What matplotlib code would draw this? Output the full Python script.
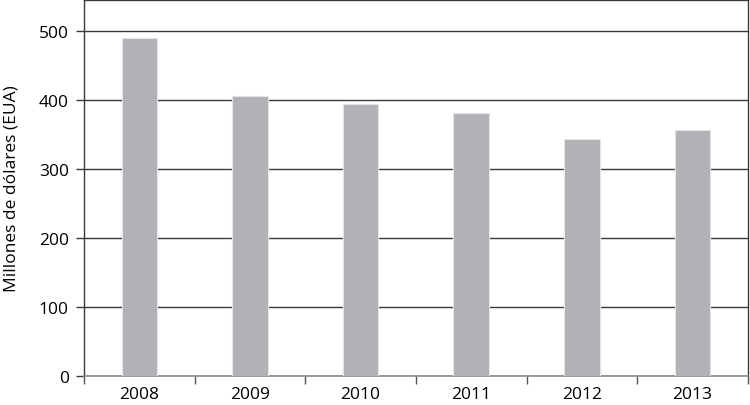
import matplotlib
matplotlib.use("Agg")
import matplotlib.pyplot as plt
import numpy as np

years = ["2008", "2009", "2010", "2011", "2012", "2013"]
values = [490, 407, 394, 382, 344, 357]
y_ticks = [0, 100, 200, 300, 400, 500]
y_label = "Millones de dólares (EUA)"

plt.rcParams["font.family"] = ["Open Sans", "DejaVu Sans"]

fig = plt.figure(figsize=(7.5, 4.06), dpi=100)
ax = fig.add_axes([0.112, 0.0705, 0.885, 0.928])

x = np.arange(len(years))
ax.bar(x, values, width=0.32, color="#b1b2b5", edgecolor="#e4e4e6",
       linewidth=0.8, zorder=3)

ax.set_xlim(-0.5, len(years) - 0.5)
ax.set_ylim(0, 546)
ax.set_yticks(y_ticks)
ax.set_yticklabels([str(v) for v in y_ticks], fontsize=12.5)
ax.yaxis.grid(True, color="#3a3a3a", linewidth=1.0, zorder=1)
ax.set_axisbelow(True)

ax.set_xticks(x)
ax.set_xticklabels(years, fontsize=12.5)
ax.tick_params(axis="x", which="major", length=0, pad=7)
ax.set_xticks(np.arange(len(years) + 1) - 0.5, minor=True)
ax.tick_params(axis="x", which="minor", length=6, color="#555555", width=1)
ax.tick_params(axis="y", length=6, color="#3a3a3a", width=1, pad=5)

for side in ["left", "top", "right"]:
    ax.spines[side].set_color("#3a3a3a")
    ax.spines[side].set_linewidth(1.0)
ax.spines["bottom"].set_color("#8a8a8a")
ax.spines["bottom"].set_linewidth(1.2)

ax.set_ylabel(y_label, fontsize=12.5, labelpad=14)

fig.savefig("out.png", dpi=100)
